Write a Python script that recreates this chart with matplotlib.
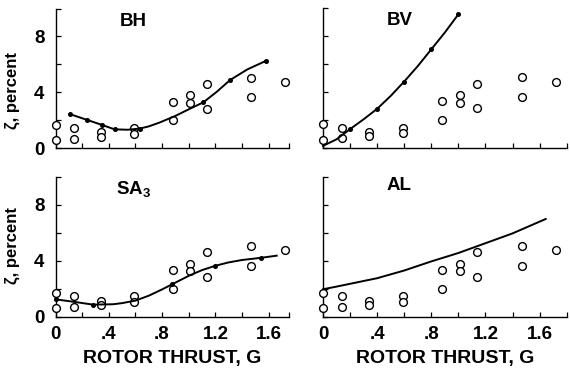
import numpy as np
import matplotlib
matplotlib.use("Agg")
import matplotlib.pyplot as plt

plt.rcParams["font.family"] = ["Liberation Sans", "DejaVu Sans"]
plt.rcParams["font.weight"] = "bold"
plt.rcParams["mathtext.fontset"] = "custom"
plt.rcParams["mathtext.bf"] = "Liberation Sans:bold"
plt.rcParams["mathtext.rm"] = "Liberation Sans:bold"

# Measured damping (same test points in every panel)
meas_x = [0.0, 0.0, 0.14, 0.14, 0.34, 0.34, 0.59, 0.59, 0.88, 0.88,
          1.01, 1.01, 1.14, 1.14, 1.47, 1.47, 1.72]
meas_y = [1.7, 0.6, 1.45, 0.7, 1.15, 0.85, 1.45, 1.05, 3.35, 2.0,
          3.8, 3.25, 4.6, 2.85, 5.05, 3.65, 4.75]

# Predicted damping curves
bh_x = [0.107, 0.238, 0.35, 0.443, 0.54, 0.632, 0.70, 0.78, 0.90, 1.0, 1.11, 1.21, 1.31, 1.44, 1.577]
bh_y = [2.46, 2.04, 1.68, 1.37, 1.34, 1.42, 1.58, 1.85, 2.33, 2.80, 3.30, 4.05, 4.89, 5.65, 6.25]
bh_dot_x = [0.107, 0.238, 0.35, 0.443, 0.632, 1.11, 1.31, 1.577]
bh_dot_y = [2.46, 2.04, 1.68, 1.37, 1.42, 3.30, 4.89, 6.25]

bv_x = [0.0, 0.1, 0.2, 0.3, 0.4, 0.5, 0.6, 0.7, 0.8, 0.9, 1.0]
bv_y = [0.15, 0.62, 1.35, 2.05, 2.80, 3.72, 4.75, 5.85, 7.05, 8.25, 9.55]
bv_dot_x = [0.2, 0.4, 0.6, 0.8, 1.0]
bv_dot_y = [1.35, 2.80, 4.75, 7.05, 9.55]

sa_x = [0.0, 0.133, 0.283, 0.433, 0.5, 0.6, 0.7, 0.8, 0.878, 1.0, 1.1, 1.2, 1.3, 1.4, 1.545, 1.66]
sa_y = [1.24, 1.07, 0.86, 0.89, 0.97, 1.15, 1.50, 1.95, 2.33, 2.92, 3.33, 3.64, 3.88, 4.05, 4.21, 4.36]
sa_dot_x = [0.0, 0.283, 0.878, 1.2, 1.545]
sa_dot_y = [1.24, 0.86, 2.33, 3.64, 4.21]

al_x = [0.0, 0.1, 0.2, 0.4, 0.6, 0.8, 1.0, 1.2, 1.4, 1.645]
al_y = [1.96, 2.15, 2.35, 2.75, 3.30, 3.95, 4.55, 5.25, 5.95, 6.98]

x_tick_vals = [0.0, 0.4, 0.8, 1.2, 1.6]
x_tick_text = ["0", ".4", ".8", "1.2", "1.6"]
y_tick_vals = [0, 4, 8]
y_tick_text = ["0", "4", "8"]

W, H = 570, 374
fig = plt.figure(figsize=(W / 100, H / 100), dpi=100)


def px_axes(x0, x1, ybot, ytop):
    return fig.add_axes([x0 / W, 1 - ybot / H, (x1 - x0) / W, (ybot - ytop) / H])


ax_bh = px_axes(55.5, 288.7, 148.5, 8.5)
ax_bv = px_axes(323.0, 566.7, 148.0, 8.0)
ax_sa = px_axes(55.5, 288.7, 316.7, 176.7)
ax_al = px_axes(323.0, 566.7, 316.7, 176.7)

xmax = {ax_bh: 1.75, ax_sa: 1.75, ax_bv: 1.8, ax_al: 1.8}

for ax in (ax_bh, ax_bv, ax_sa, ax_al):
    ax.set_xlim(0, xmax[ax])
    ax.set_ylim(0, 10)
    for s in ("top", "right"):
        ax.spines[s].set_visible(False)
    for s in ("left", "bottom"):
        ax.spines[s].set_linewidth(1.0)
    ax.set_xticks(list(np.arange(0, 1.61, 0.2)) + [xmax[ax]])
    ax.set_yticks([0, 2, 4, 6, 8, 10])
    ax.tick_params(direction="in", length=3.5, width=0.9, labelsize=13.5)
    ax.tick_params(axis="x", labelbottom=False, pad=7)
    ax.tick_params(axis="y", labelleft=False, pad=8)
    ax.plot(meas_x, meas_y, linestyle="none", marker="o", ms=5.6,
            mfc="white", mec="black", mew=1.0, clip_on=False, zorder=3)

# labelled ticks on the outer axes
for ax in (ax_sa, ax_al):
    sec = ax.secondary_xaxis("bottom")
    sec.set_xticks(x_tick_vals, x_tick_text)
    sec.tick_params(length=0, pad=7, labelsize=13.5)
    sec.spines["bottom"].set_visible(False)
    ax.set_xlabel("ROTOR THRUST, G", fontsize=14, fontweight="bold", labelpad=24)

for ax in (ax_bh, ax_sa):
    sec = ax.secondary_yaxis("left")
    sec.set_yticks(y_tick_vals, y_tick_text)
    sec.tick_params(length=0, pad=8, labelsize=13.5)
    sec.spines["left"].set_visible(False)

line_kw = dict(color="black", lw=1.4, zorder=4, clip_on=False)
dot_kw = dict(color="black", linestyle="none", marker="o", ms=2.6, zorder=5, clip_on=False)

ax_bh.plot(bh_x, bh_y, **line_kw)
ax_bh.plot(bh_dot_x, bh_dot_y, **dot_kw)
ax_bv.plot(bv_x, bv_y, **line_kw)
ax_bv.plot(bv_dot_x, bv_dot_y, **dot_kw)
ax_sa.plot(sa_x, sa_y, **line_kw)
ax_sa.plot(sa_dot_x, sa_dot_y, **dot_kw)
ax_al.plot(al_x, al_y, **line_kw)

title_kw = dict(fontsize=13.5, fontweight="bold", ha="center", va="center")
ax_bh.text(0.332, 0.905, "BH", transform=ax_bh.transAxes, **title_kw)
ax_bv.text(0.316, 0.91, "BV", transform=ax_bv.transAxes, **title_kw)
ax_sa.text(0.335, 0.915, r"$\mathbf{SA_3}$", transform=ax_sa.transAxes, **title_kw)
ax_al.text(0.31, 0.94, "AL", transform=ax_al.transAxes, **title_kw)

fig.text(12 / W, 1 - 90.5 / H, "ζ, percent", rotation=90, ha="center", va="center",
         fontsize=12, fontweight="bold")
fig.text(12 / W, 1 - 245 / H, "ζ, percent", rotation=90, ha="center", va="center",
         fontsize=12, fontweight="bold")

fig.savefig("out.png", dpi=100)
